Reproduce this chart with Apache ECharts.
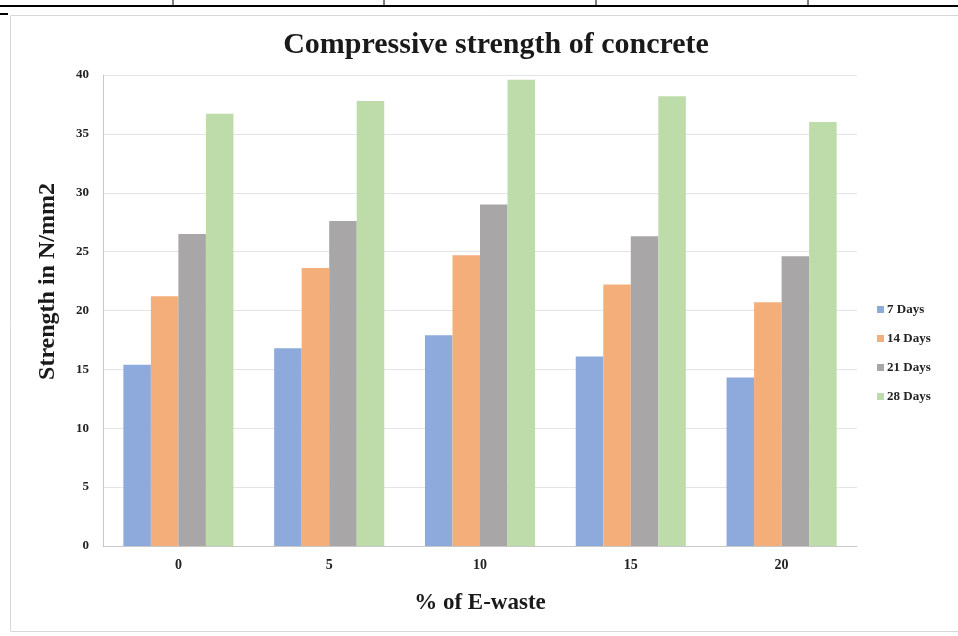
<!DOCTYPE html>
<html>
<head>
<meta charset="utf-8">
<script src="https://cdn.jsdelivr.net/npm/echarts@6/dist/echarts.min.js"></script>
<style>
  html, body { margin: 0; padding: 0; background: #fff; }
  #chart { width: 958px; height: 636px; }
</style>
</head>
<body>
<div id="chart"></div>
<script>
// E-waste replacement levels (%)
const categories = ['0', '5', '10', '15', '20'];
// Compressive strength (N/mm2) by curing age
const days7  = [15.4, 16.8, 17.9, 16.1, 14.3];
const days14 = [21.2, 23.6, 24.7, 22.2, 20.7];
const days21 = [26.5, 27.6, 29.0, 26.3, 24.6];
const days28 = [36.7, 37.8, 39.6, 38.2, 36.0];
const seriesNames = ['7 Days', '14 Days', '21 Days', '28 Days'];
const yTicks = [0, 5, 10, 15, 20, 25, 30, 35, 40];

const colors = ['#8EA9DB', '#F4AE7A', '#A8A6A6', '#BDDCAA'];
const serif = '"Liberation Serif", "DejaVu Serif", serif';

const chart = echarts.init(document.getElementById('chart'));

const seriesData = [days7, days14, days21, days28];

chart.setOption({
  animation: false,
  color: colors,
  title: {
    text: 'Compressive strength of concrete',
    left: 491,
    top: 25,
    textAlign: 'center',
    textStyle: { fontFamily: serif, fontWeight: 'bold', fontSize: 30, color: '#1a1a1a' }
  },
  legend: {
    orient: 'vertical',
    left: 872,
    top: 298,
    itemWidth: 7,
    itemHeight: 7,
    itemGap: 16,
    icon: 'rect',
    data: seriesNames,
    textStyle: { fontFamily: serif, fontWeight: 'bold', fontSize: 13, color: '#222', padding: [0, 0, 0, -2] }
  },
  grid: { left: 103, right: 101, top: 75, bottom: 90 },
  xAxis: {
    type: 'category',
    data: categories,
    name: '% of E-waste',
    nameLocation: 'middle',
    nameGap: 46,
    nameTextStyle: { fontFamily: serif, fontWeight: 'bold', fontSize: 23, color: '#1a1a1a' },
    axisLine: { lineStyle: { color: '#c8c8c8', width: 1 } },
    axisTick: { show: false },
    axisLabel: { fontFamily: serif, fontWeight: 'bold', fontSize: 14, color: '#222', margin: 12 }
  },
  yAxis: {
    type: 'value',
    min: yTicks[0],
    max: yTicks[yTicks.length - 1],
    interval: 5,
    name: 'Strength in N/mm2',
    nameLocation: 'middle',
    nameGap: 43,
    nameTextStyle: {
      fontFamily: serif, fontWeight: 'bold', fontSize: 24, color: '#1a1a1a',
      padding: [0, 0, 0, 58]
    },
    axisLine: { show: true, lineStyle: { color: '#c8c8c8', width: 1 } },
    axisTick: { show: false },
    axisLabel: { fontFamily: serif, fontWeight: 'bold', fontSize: 13, color: '#222', margin: 14 },
    splitLine: { lineStyle: { color: '#e4e4e4', width: 1 } }
  },
  series: seriesNames.map((name, i) => ({
    name,
    type: 'bar',
    data: seriesData[i],
    barGap: '0%',
    barCategoryGap: '27%'
  })),
  graphic: [
    // page frame around the figure
    { type: 'rect', shape: { x: 10.5, y: 15.5, width: 960, height: 616 },
      style: { fill: 'none', stroke: '#d8d8d8', lineWidth: 1 }, silent: true },
    // table rule above the figure
    { type: 'line', shape: { x1: 0, y1: 6, x2: 958, y2: 6 },
      style: { stroke: '#000', lineWidth: 2 }, silent: true },
    { type: 'line', shape: { x1: 0, y1: 14, x2: 8, y2: 14 },
      style: { stroke: '#000', lineWidth: 2 }, silent: true },
    { type: 'line', shape: { x1: 173, y1: 0, x2: 173, y2: 6 }, style: { stroke: '#000', lineWidth: 1 }, silent: true },
    { type: 'line', shape: { x1: 384, y1: 0, x2: 384, y2: 6 }, style: { stroke: '#000', lineWidth: 1 }, silent: true },
    { type: 'line', shape: { x1: 596, y1: 0, x2: 596, y2: 6 }, style: { stroke: '#000', lineWidth: 1 }, silent: true },
    { type: 'line', shape: { x1: 808, y1: 0, x2: 808, y2: 6 }, style: { stroke: '#000', lineWidth: 1 }, silent: true }
  ]
});
</script>
</body>
</html>
